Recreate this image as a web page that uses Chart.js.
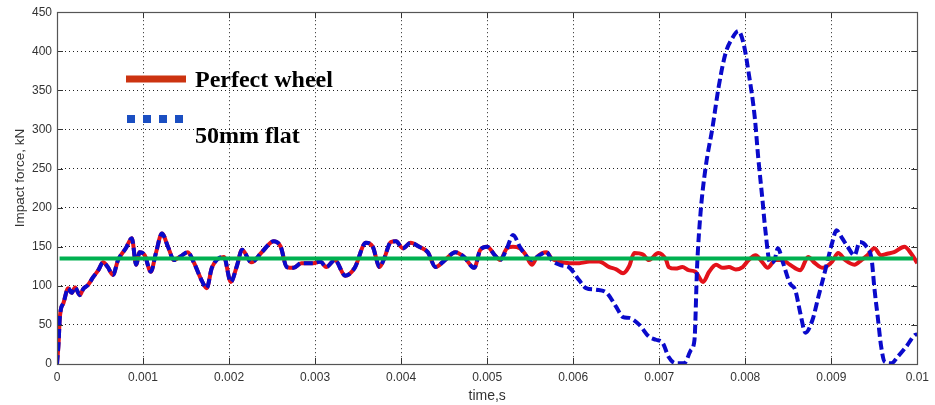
<!DOCTYPE html>
<html>
<head>
<meta charset="utf-8">
<script src="https://cdn.jsdelivr.net/npm/chart.js@4.4.1/dist/chart.umd.min.js"></script>
<style>
html,body{margin:0;padding:0;background:#fff;}
#wrap{width:935px;height:405px;position:relative;}
</style>
</head>
<body>
<div id="wrap"><canvas id="c" width="935" height="405"></canvas></div>
<script>
// ---- data (time in milliseconds, force in kN) ----
const xTickLabels = ['0','0.001','0.002','0.003','0.004','0.005','0.006','0.007','0.008','0.009','0.01'];
const seriesLabels = ['Perfect wheel', '50mm flat'];
const yAxisTitle = 'Impact force, kN';
const xAxisTitle = 'time,s';

// portion where both wheels give the same response
const commonTimeMs = [0,0.02,0.03,0.045,0.075,0.13,0.17,0.21,0.265,0.305,0.36,0.42,0.48,0.535,0.59,0.65,0.71,0.80,0.87,0.92,0.96,1.02,1.09,1.15,1.22,1.29,1.36,1.44,1.52,1.59,1.69,1.74,1.80,1.94,2.02,2.09,2.15,2.26,2.38,2.52,2.60,2.67,2.75,2.84,2.98,3.06,3.13,3.23,3.35,3.46,3.59,3.67,3.75,3.80,3.88,3.94,4.02,4.11,4.21,4.31,4.40,4.50,4.63,4.73,4.85,4.92,5.00,5.09,5.15,5.23];
const commonForce  = [0,30,55,70,78,97,91,98,88,96,101,111,120,130,124,114,133,148,161,127,143,139,118,142,167,150,133,138,143,130,105,97,123,137,105,125,146,130,143,157,150,124,123,129,129,131,124,133,113,123,155,150,124,134,156,157,148,155,150,143,124,132,143,137,123,146,150,139,133,148];

const perfectTailTimeMs = [5.30,5.38,5.44,5.52,5.58,5.69,5.75,5.84,5.96,6.07,6.19,6.30,6.42,6.50,6.58,6.65,6.71,6.81,6.88,6.99,7.08,7.11,7.19,7.27,7.34,7.42,7.51,7.58,7.66,7.74,7.81,7.89,7.97,8.04,8.12,8.20,8.26,8.35,8.43,8.52,8.64,8.73,8.81,8.90,9.01,9.08,9.16,9.27,9.35,9.42,9.50,9.58,9.65,9.73,9.85,9.93,10.0];
const perfectTailForce  = [150,148,141,127,137,143,135,131,129,129,131,131,124,121,116,125,142,140,133,142,133,124,122,124,120,118,105,118,127,123,124,121,124,133,139,130,123,133,133,127,120,137,129,123,131,142,133,127,133,139,148,139,141,143,150,141,129];

const flatTailTimeMs = [5.30,5.38,5.44,5.52,5.58,5.69,5.75,5.84,5.96,6.07,6.15,6.27,6.39,6.50,6.58,6.65,6.77,6.88,6.96,7.04,7.11,7.19,7.29,7.37,7.41,7.44,7.48,7.54,7.62,7.69,7.77,7.85,7.92,7.98,8.04,8.11,8.15,8.20,8.23,8.29,8.34,8.38,8.44,8.52,8.58,8.64,8.70,8.78,8.85,8.93,9.01,9.06,9.12,9.19,9.27,9.33,9.41,9.47,9.50,9.54,9.58,9.62,9.70,9.77,9.87,9.97,10.0];
const flatTailForce  = [165,150,140,133,137,143,133,127,123,107,97,95,91,73,60,59,50,35,31,27,9,1,1,18,31,124,193,252,303,354,397,417,426,410,372,316,265,210,175,129,133,148,129,103,95,65,40,56,86,120,155,171,162,150,139,156,150,133,98,60,22,3,1,9,22,37,38];

const referenceTimeMs = [0.03, 9.95];
const referenceForce  = [135, 135];

// ---- build point lists ----
function pts(ts, vs){ return ts.map((t,i)=>({x:t/1000, y:vs[i]})); }
const perfectPts = pts(commonTimeMs.concat(perfectTailTimeMs), commonForce.concat(perfectTailForce));
const flatPts = pts(commonTimeMs.concat(flatTailTimeMs), commonForce.concat(flatTailForce));
const refPts = pts(referenceTimeMs, referenceForce);

const RED = '#e3121a', BLUE = '#0a0acb', GREEN = '#00b050';
const LEG_RED = '#cc3310', LEG_BLUE = '#1b4fc2';

const framePlugin = {
  id: 'frame',
  afterDatasetsDraw(chart){
    const {ctx, chartArea:a, scales:{x, y}} = chart;
    ctx.save();
    // inward tick marks
    ctx.strokeStyle = '#333';
    ctx.lineWidth = 1;
    ctx.beginPath();
    x.ticks.forEach(t=>{
      const px = Math.round(x.getPixelForValue(t.value))+0.5;
      ctx.moveTo(px, a.bottom); ctx.lineTo(px, a.bottom-6);
      ctx.moveTo(px, a.top); ctx.lineTo(px, a.top+6);
    });
    y.ticks.forEach(t=>{
      const py = Math.round(y.getPixelForValue(t.value))+0.5;
      ctx.moveTo(a.left, py); ctx.lineTo(a.left+6, py);
      ctx.moveTo(a.right, py); ctx.lineTo(a.right-6, py);
    });
    ctx.stroke();
    // box
    ctx.strokeStyle = '#555';
    ctx.lineWidth = 1.2;
    ctx.strokeRect(Math.round(a.left)+0.5, Math.round(a.top)+0.5, Math.round(a.right-a.left), Math.round(a.bottom-a.top));
    // y axis title
    ctx.save();
    ctx.translate(20, 178);
    ctx.rotate(-Math.PI/2);
    ctx.fillStyle = '#333';
    ctx.font = '13.5px "Liberation Sans", Arial, sans-serif';
    ctx.textAlign = 'center';
    ctx.textBaseline = 'middle';
    ctx.fillText(yAxisTitle, 0, 0);
    ctx.restore();
    // legend
    ctx.strokeStyle = LEG_RED;
    ctx.lineWidth = 7;
    ctx.beginPath(); ctx.moveTo(126, 79); ctx.lineTo(186, 79); ctx.stroke();
    ctx.fillStyle = LEG_BLUE;
    for (let i=0;i<4;i++) ctx.fillRect(127+i*16, 115, 8, 8);
    ctx.fillStyle = '#000';
    ctx.font = 'bold 24px "Liberation Serif", "Times New Roman", serif';
    ctx.textBaseline = 'alphabetic';
    ctx.textAlign = 'left';
    ctx.fillText(chart.data.datasets[0].label, 195, 87);
    ctx.fillText(chart.data.datasets[1].label, 195, 143);
    ctx.restore();
  }
};

const tickFont = {family:'"Liberation Sans", Arial, sans-serif', size:12};

new Chart(document.getElementById('c'), {
  type: 'line',
  data: {
    datasets: [
      {label: seriesLabels[0], data: perfectPts, borderColor: RED, borderWidth: 4, pointRadius: 0, cubicInterpolationMode: 'monotone', order: 2, fill:false},
      {label: seriesLabels[1], data: flatPts, borderColor: BLUE, borderWidth: 4, borderDash:[9,4], pointRadius: 0, cubicInterpolationMode: 'monotone', order: 1, fill:false},
      {label: 'reference', data: refPts, borderColor: GREEN, borderWidth: 4, pointRadius: 0, order: 0, fill:false, borderCapStyle:'butt'}
    ]
  },
  options: {
    responsive: false,
    animation: false,
    devicePixelRatio: 1,
    layout: {padding: {left:0, top:12, right:12, bottom:0}},
    plugins: {legend: {display:false}, tooltip: {enabled:false}},
    scales: {
      x: {
        type: 'linear', min: 0, max: 0.01,
        afterFit(s){ s.height = 41; },
        ticks: {stepSize: 0.001, autoSkip:false, maxRotation:0, padding: 6, color:'#333', font: tickFont,
          callback: (v)=> xTickLabels[Math.round(v*1000)]},
        grid: {color:'#222', lineWidth:1, drawTicks:false},
        border: {display:false, dash:[1,3]},
        title: {display:true, text:xAxisTitle, color:'#333', font:{family:'"Liberation Sans", Arial, sans-serif', size:14}, padding:{top:0,bottom:0}}
      },
      y: {
        min: 0, max: 450,
        afterFit(s){ s.width = 57; },
        ticks: {stepSize: 50, padding: 5, color:'#333', font: tickFont},
        grid: {color:'#222', lineWidth:1, drawTicks:false},
        border: {display:false, dash:[1,3]}
      }
    }
  },
  plugins: [framePlugin]
});
</script>
</body>
</html>
